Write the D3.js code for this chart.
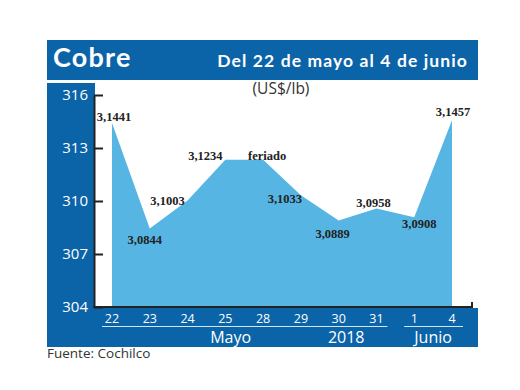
<!DOCTYPE html>
<html>
<head>
<meta charset="utf-8">
<script src="https://cdn.jsdelivr.net/npm/d3@7"></script>
<style>
  body { margin: 0; background: #fff; }
  svg { display: block; }
</style>
</head>
<body>
<svg></svg>
<script>
// Cobre: precio diario, del 22 de mayo al 4 de junio 2018
const width = 520;
const height = 390;

const days = ["22", "23", "24", "25", "28", "29", "30", "31", "1", "4"];
const prices = [314.41, 308.44, 310.03, 312.34, 312.34, 310.33, 308.89, 309.58, 309.08, 314.57];
const valueLabels = ["3,1441", "3,0844", "3,1003", "3,1234", "feriado", "3,1033", "3,0889", "3,0958", "3,0908", "3,1457"];
const yTicks = [304, 307, 310, 313, 316];
const monthNames = ["Mayo", "2018", "Junio"];

const blue = "#0b63a8";
const areaColor = "#57b5e3";
const ink = "#222";

const svg = d3.select("svg")
    .attr("width", width)
    .attr("height", height);

// scales
const x = d3.scaleLinear().domain([0, days.length - 1]).range([112, 452]);
const y = d3.scaleLinear().domain([304, 316]).range([307, 95]);

// blue frame: title bar, left column, bottom band
svg.append("rect").attr("x", 47).attr("y", 40).attr("width", 431).attr("height", 40).attr("fill", blue);
svg.append("rect").attr("x", 47).attr("y", 83).attr("width", 48).attr("height", 226).attr("fill", blue);
svg.append("rect").attr("x", 47).attr("y", 308).attr("width", 431).attr("height", 39).attr("fill", blue);

// titles
svg.append("text")
    .attr("x", 53).attr("y", 67)
    .attr("fill", "#fff")
    .attr("font-family", "Lato, sans-serif")
    .attr("font-weight", "bold")
    .attr("font-size", "27px")
    .attr("letter-spacing", "1.2px")
    .text("Cobre");

svg.append("text")
    .attr("x", 468).attr("y", 67)
    .attr("text-anchor", "end")
    .attr("fill", "#fff")
    .attr("font-family", "Lato, sans-serif")
    .attr("font-weight", "bold")
    .attr("font-size", "17.5px")
    .attr("letter-spacing", "1.1px")
    .text("Del 22 de mayo al 4 de junio");

svg.append("text")
    .attr("x", 281).attr("y", 94)
    .attr("text-anchor", "middle")
    .attr("fill", "#333")
    .attr("font-family", "'Open Sans', sans-serif")
    .attr("font-size", "15.5px")
    .text("(US$/lb)");

// area
const area = d3.area()
    .x((d, i) => x(i))
    .y0(y(304))
    .y1(d => y(d));

svg.append("path")
    .datum(prices)
    .attr("d", area)
    .attr("fill", areaColor);

// y axis, ticks pointing into the plot
const yAxis = svg.append("g")
    .attr("transform", "translate(94,0)")
    .call(d3.axisLeft(y).tickValues(yTicks).tickSizeInner(-9).tickSizeOuter(0).tickPadding(6));

yAxis.select(".domain").attr("stroke", ink).attr("stroke-width", 2);
yAxis.selectAll(".tick line").attr("stroke", ink).attr("stroke-width", 2);
yAxis.selectAll(".tick text")
    .attr("fill", "#fff")
    .attr("font-family", "'Open Sans', sans-serif")
    .attr("font-size", "15px");

// bottom axis line with the small end tick
svg.append("path")
    .attr("d", `M93,${y(304)}H472V${y(304) - 5}`)
    .attr("fill", "none")
    .attr("stroke", ink)
    .attr("stroke-width", 2);

// value labels, nudged off the line like in the print version
const labelOffsets = [[2, -2], [-5, 15.5], [-20, 5], [-20, 0], [4, 0], [-16, 8], [-6, 17], [-3, -1], [5, 11], [1, -4]];

svg.append("g")
    .selectAll("text")
    .data(valueLabels)
    .enter().append("text")
    .attr("x", (d, i) => x(i) + labelOffsets[i][0])
    .attr("y", (d, i) => y(prices[i]) + labelOffsets[i][1])
    .attr("text-anchor", "middle")
    .attr("fill", ink)
    .attr("font-family", "'Liberation Serif', serif")
    .attr("font-weight", "bold")
    .attr("font-size", "12.5px")
    .text(d => d);

// day labels in the bottom band
svg.append("g")
    .selectAll("text")
    .data(days)
    .enter().append("text")
    .attr("x", (d, i) => x(i))
    .attr("y", 323)
    .attr("text-anchor", "middle")
    .attr("fill", "#fff")
    .attr("font-family", "'Open Sans', sans-serif")
    .attr("font-size", "12.5px")
    .text(d => d);

// month underlines
const monthSpans = [[0, 7], [8, 9]];
svg.append("g")
    .selectAll("line")
    .data(monthSpans)
    .enter().append("line")
    .attr("x1", d => x(d[0]) - 10)
    .attr("x2", d => x(d[1]) + 11)
    .attr("y1", 326.5)
    .attr("y2", 326.5)
    .attr("stroke", "#cfe6f5")
    .attr("stroke-width", 1);

const monthPos = [3.14, 6.2, 8.5];
svg.append("g")
    .selectAll("text")
    .data(monthNames)
    .enter().append("text")
    .attr("x", (d, i) => x(monthPos[i]))
    .attr("y", 343)
    .attr("text-anchor", "middle")
    .attr("fill", "#fff")
    .attr("font-family", "'Open Sans', sans-serif")
    .attr("font-size", "16px")
    .text(d => d);

// source
svg.append("text")
    .attr("x", 47).attr("y", 358)
    .attr("fill", "#333")
    .attr("font-family", "'Open Sans', sans-serif")
    .attr("font-size", "13.5px")
    .text("Fuente: Cochilco");
</script>
</body>
</html>
